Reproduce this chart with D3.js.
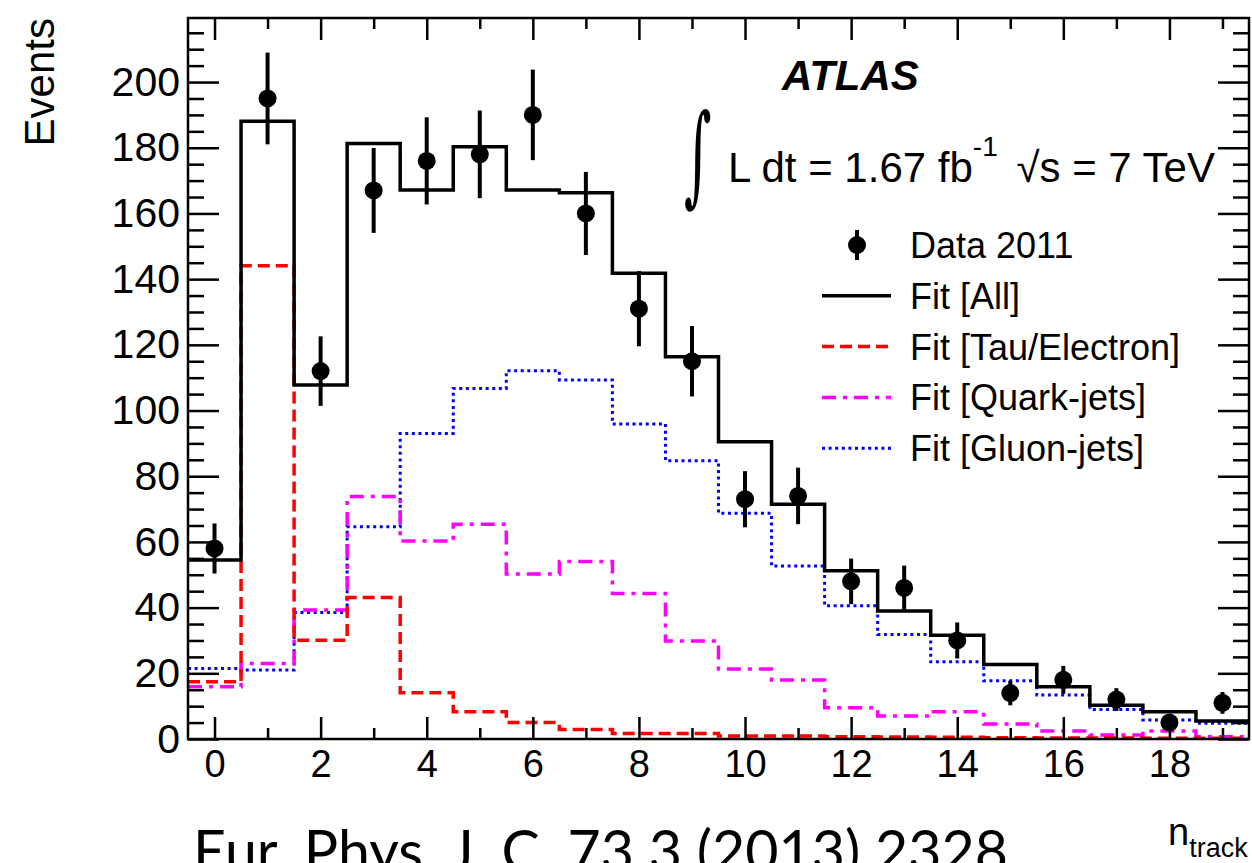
<!DOCTYPE html>
<html lang="en">
<head>
    <meta charset="UTF-8" />
    <title>ATLAS n_track fit</title>
    <style>
        body, html {
            margin: 0;
            padding: 0;
            background-color: white;
        }
        svg text {
            font-family: "Liberation Sans", Arial, Helvetica, sans-serif;
            fill: black;
        }
        .axis path.domain {
            display: none;
        }
        .axis line {
            stroke: black;
            stroke-width: 2.5;
        }
    </style>
</head>
<body>
    <svg id="svg" width="1252" height="863"></svg>
    <script src="https://cdn.jsdelivr.net/npm/d3@7"></script>
    <script>
        // bin centres (number of tracks)
        const nTrack = [0, 1, 2, 3, 4, 5, 6, 7, 8, 9, 10, 11, 12, 13, 14, 15, 16, 17, 18, 19];

        // Data 2011 (errors are sqrt(N))
        const data2011 = [58, 195, 112, 167, 176, 178, 190, 160, 131, 115, 73, 74, 48, 46, 30, 14, 18, 12, 5, 11];

        // fit templates
        const fitAll = [54.5, 188.1, 107.8, 181.3, 167.1, 180.3, 167.1, 166.3, 141.8, 116.4, 90.5, 71.5, 51.2, 39, 31.6, 22.7, 15.9, 10.3, 8.3, 5.5];
        const fitTau = [17.4, 144.1, 30.1, 43.1, 14.1, 8.3, 5, 2.9, 1.7, 1.7, 0.9, 0.9, 0.7, 0.6, 0.5, 0.4, 0.3, 0.3, 0.2, 0.2];
        const fitQuark = [15.9, 23, 39.3, 73.8, 60.3, 65.4, 50.2, 54, 44.3, 29.8, 21.3, 18, 9.5, 7, 8.3, 4.6, 2.4, 1.2, 2.4, 0.7];
        const fitGluon = [21.5, 21, 38.5, 64.6, 93, 106.7, 112.1, 109.3, 95.9, 84.7, 68.7, 52.7, 40.6, 31.8, 23.5, 17.7, 13.4, 9, 5.8, 4.8];

        // tick values
        const xMajor = [0, 2, 4, 6, 8, 10, 12, 14, 16, 18];
        const xMinor = [1, 3, 5, 7, 9, 11, 13, 15, 17, 19];
        const yMajor = [0, 20, 40, 60, 80, 100, 120, 140, 160, 180, 200];
        const yMinor = [5, 10, 15, 25, 30, 35, 45, 50, 55, 65, 70, 75, 85, 90, 95, 105, 110, 115,
                        125, 130, 135, 145, 150, 155, 165, 170, 175, 185, 190, 195, 205, 210, 215];

        const legendLabels = ["Data 2011", "Fit [All]", "Fit [Tau/Electron]", "Fit [Quark-jets]", "Fit [Gluon-jets]"];

        // plot frame
        const frameL = 188, frameR = 1249, frameT = 18, frameB = 739;

        const svg = d3.select("#svg");

        const xScale = d3.scaleLinear().domain([-0.5, 19.5]).range([frameL, frameR]);
        const yScale = d3.scaleLinear().domain([0, 219.5]).range([frameB, frameT]);

        // histogram outline as steps
        const stepLine = d3.line()
            .x(d => xScale(d[0]))
            .y(d => yScale(d[1]));

        function steps(vals) {
            const pts = [];
            vals.forEach((v, i) => {
                pts.push([nTrack[i] - 0.5, v]);
                pts.push([nTrack[i] + 0.5, v]);
            });
            return pts;
        }

        const series = [
            { vals: fitGluon, color: "#0000ff", width: 3, dash: "3,3.6" },
            { vals: fitQuark, color: "#ff00ff", width: 3.5, dash: "14,7,4,7" },
            { vals: fitTau, color: "#ff0000", width: 3.5, dash: "12,6" },
            { vals: fitAll, color: "black", width: 3.5, dash: null }
        ];

        series.forEach(s => {
            svg.append("path")
                .datum(steps(s.vals))
                .attr("d", stepLine)
                .attr("fill", "none")
                .attr("stroke", s.color)
                .attr("stroke-width", s.width)
                .attr("stroke-dasharray", s.dash);
        });

        // data points with error bars
        const points = nTrack.map((n, i) => ({ n: n, v: data2011[i] }));

        svg.selectAll(".errbar")
            .data(points)
            .enter()
            .append("line")
            .attr("class", "errbar")
            .attr("x1", d => xScale(d.n))
            .attr("x2", d => xScale(d.n))
            .attr("y1", d => yScale(d.v - Math.sqrt(d.v)))
            .attr("y2", d => yScale(d.v + Math.sqrt(d.v)))
            .attr("stroke", "black")
            .attr("stroke-width", 4);

        svg.selectAll(".pt")
            .data(points)
            .enter()
            .append("circle")
            .attr("class", "pt")
            .attr("cx", d => xScale(d.n))
            .attr("cy", d => yScale(d.v))
            .attr("r", 9)
            .attr("fill", "black");

        // axes: ticks point inwards on all four sides
        svg.append("g").attr("class", "axis")
            .attr("transform", `translate(0,${frameB})`)
            .call(d3.axisBottom(xScale).tickValues(xMinor).tickSize(-11).tickFormat(""));
        const xAx = svg.append("g").attr("class", "axis")
            .attr("transform", `translate(0,${frameB})`)
            .call(d3.axisBottom(xScale).tickValues(xMajor).tickSize(-22).tickPadding(11).tickFormat(d3.format("d")));
        xAx.selectAll("text").style("font-size", "38px");

        svg.append("g").attr("class", "axis")
            .attr("transform", `translate(0,${frameT})`)
            .call(d3.axisTop(xScale).tickValues(xMinor).tickSize(-11).tickFormat(""));
        svg.append("g").attr("class", "axis")
            .attr("transform", `translate(0,${frameT})`)
            .call(d3.axisTop(xScale).tickValues(xMajor).tickSize(-22).tickFormat(""));

        svg.append("g").attr("class", "axis")
            .attr("transform", `translate(${frameL},0)`)
            .call(d3.axisLeft(yScale).tickValues(yMinor).tickSize(-16).tickFormat(""));
        const yAx = svg.append("g").attr("class", "axis")
            .attr("transform", `translate(${frameL},0)`)
            .call(d3.axisLeft(yScale).tickValues(yMajor).tickSize(-31).tickPadding(8).tickFormat(d3.format("d")));
        yAx.selectAll("text").style("font-size", "41px");

        svg.append("g").attr("class", "axis")
            .attr("transform", `translate(${frameR},0)`)
            .call(d3.axisRight(yScale).tickValues(yMinor).tickSize(-16).tickFormat(""));
        svg.append("g").attr("class", "axis")
            .attr("transform", `translate(${frameR},0)`)
            .call(d3.axisRight(yScale).tickValues(yMajor).tickSize(-31).tickFormat(""));

        // frame
        svg.append("rect")
            .attr("x", frameL)
            .attr("y", frameT)
            .attr("width", frameR - frameL)
            .attr("height", frameB - frameT)
            .attr("fill", "none")
            .attr("stroke", "black")
            .attr("stroke-width", 2.5);

        // axis titles
        svg.append("text")
            .attr("transform", "translate(54,18) rotate(-90)")
            .attr("text-anchor", "end")
            .style("font-size", "42px")
            .text("Events");

        const xt = svg.append("text")
            .attr("x", 1168)
            .attr("y", 845)
            .style("font-size", "38px");
        xt.append("tspan").text("n");
        xt.append("tspan").attr("dy", 12).style("font-size", "27px").text("track");

        // ATLAS label
        svg.append("text")
            .attr("x", 782)
            .attr("y", 90)
            .style("font-size", "42px")
            .style("font-weight", "bold")
            .style("font-style", "italic")
            .text("ATLAS");

        // luminosity and energy
        svg.append("text")
            .attr("transform", "translate(684,192) scale(0.8,1.66)")
            .style("font-size", "66px")
            .style("font-family", "'DejaVu Serif', serif")
            .text("\u222B");

        const lumi = svg.append("text")
            .attr("x", 728)
            .attr("y", 182)
            .style("font-size", "42px");
        lumi.append("tspan").text("L dt = 1.67 fb");
        lumi.append("tspan").attr("dy", -26).style("font-size", "28px").text("-1");

        const sq = svg.append("text")
            .attr("x", 1215)
            .attr("y", 182)
            .attr("text-anchor", "end")
            .style("font-size", "42px");
        sq.append("tspan").text("\u221As = 7 TeV");

        // legend
        const legX1 = 822, legX2 = 891, legText = 910;
        const rowY = i => 245 + i * 50.8;

        legendLabels.forEach((lab, i) => {
            svg.append("text")
                .attr("x", legText)
                .attr("y", rowY(i) + 13)
                .style("font-size", "36px")
                .text(lab);
        });

        // data marker in legend
        svg.append("line")
            .attr("x1", 857).attr("x2", 857)
            .attr("y1", rowY(0) - 15).attr("y2", rowY(0) + 15)
            .attr("stroke", "black").attr("stroke-width", 4);
        svg.append("circle")
            .attr("cx", 857).attr("cy", rowY(0)).attr("r", 9).attr("fill", "black");

        // fit lines in legend (same order as labels)
        const legSeries = [series[3], series[2], series[1], series[0]];
        legSeries.forEach((s, i) => {
            svg.append("line")
                .attr("x1", legX1).attr("x2", legX2)
                .attr("y1", rowY(i + 1)).attr("y2", rowY(i + 1))
                .attr("stroke", s.color)
                .attr("stroke-width", s.width)
                .attr("stroke-dasharray", s.dash);
        });

        // citation, cut by the bottom edge like the original
        svg.append("text")
            .attr("x", 193)
            .attr("y", 872)
            .attr("textLength", 815)
            .attr("lengthAdjust", "spacingAndGlyphs")
            .style("font-family", "Lato, 'Open Sans', sans-serif")
            .style("font-size", "58px")
            .text("Eur. Phys. J. C, 73 3 (2013) 2328");
    </script>
</body>
</html>
